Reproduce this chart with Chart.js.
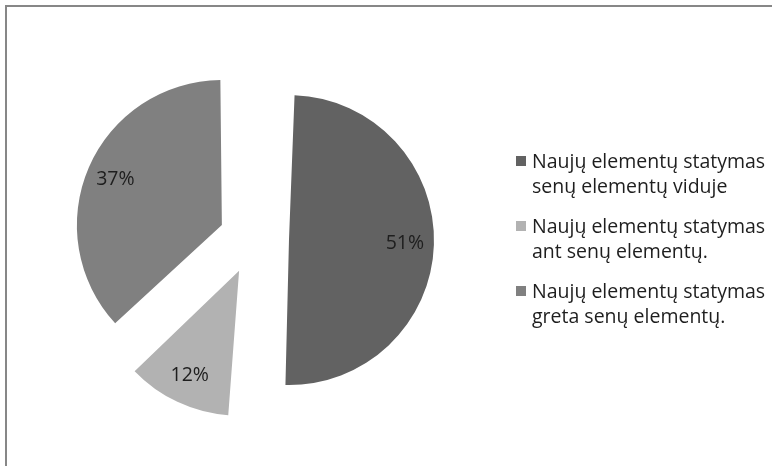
<!DOCTYPE html>
<html>
<head>
<meta charset="utf-8">
<script src="https://cdn.jsdelivr.net/npm/chart.js@4"></script>
<style>
  html, body { margin: 0; padding: 0; background: #fff; overflow: hidden; }
  #wrap { position: relative; width: 772px; height: 466px; }
  #frame { position: absolute; left: 5px; top: 5px; width: 900px; height: 600px; border: 2px solid #878787; }
  canvas { position: absolute; left: 0; top: 0; }
</style>
</head>
<body>
<div id="wrap">
  <div id="frame"></div>
  <canvas id="grafikas" width="772" height="466"></canvas>
</div>
<script>
// Kategorijos (legendos tekstas, dvi eilutės)
const categories = [
  ['Naujų elementų statymas', 'senų elementų viduje'],
  ['Naujų elementų statymas', 'ant senų elementų.'],
  ['Naujų elementų statymas', 'greta senų elementų.']
];
// Procentai
const percents = [51, 12, 37];
const colors = ['#626262', '#b2b2b2', '#808080'];

const pieRadius = 145;
const explode = 140; // Chart.js dalina offset iš 4 -> 35px

// Chart.js didina spindulį išstumtiems segmentams, tai kompensuojam
const fixRadius = {
  id: 'fixRadius',
  afterDatasetUpdate(chart, args) {
    const shift = explode / 4;
    args.meta.data.forEach(arc => {
      const fix = 1 - Math.sin(Math.min(Math.PI, arc.circumference));
      arc.outerRadius = pieRadius - shift * fix;
    });
  }
};

// Procentų etiketės ant segmentų
const pctLabels = {
  id: 'pctLabels',
  afterDatasetsDraw(chart) {
    const ctx = chart.ctx;
    const meta = chart.getDatasetMeta(0);
    ctx.save();
    ctx.font = '19.5px "Open Sans", sans-serif';
    ctx.fillStyle = '#1e1e1e';
    ctx.textAlign = 'center';
    ctx.textBaseline = 'middle';
    meta.data.forEach((arc, i) => {
      const mid = (arc.startAngle + arc.endAngle) / 2;
      const dist = explode / 4 + pieRadius * 0.8;
      ctx.fillText(percents[i] + '%', arc.x + Math.cos(mid) * dist, arc.y + Math.sin(mid) * dist);
    });
    ctx.restore();
  }
};

// Legenda dešinėje
const sideLegend = {
  id: 'sideLegend',
  afterDraw(chart) {
    const ctx = chart.ctx;
    ctx.save();
    ctx.font = '19.5px "Open Sans", sans-serif';
    ctx.textBaseline = 'middle';
    categories.forEach((lines, i) => {
      const top = 162 + i * 65;
      ctx.fillStyle = colors[i];
      ctx.fillRect(516, top - 6, 10, 10);
      ctx.fillStyle = '#1e1e1e';
      lines.forEach((txt, j) => {
        ctx.fillText(txt, 532, top + j * 25);
      });
    });
    ctx.restore();
  }
};

new Chart(document.getElementById('grafikas'), {
  type: 'pie',
  data: {
    labels: categories,
    datasets: [{
      data: percents,
      backgroundColor: colors,
      borderWidth: 0,
      offset: explode,
      radius: pieRadius,
      clip: false
    }]
  },
  options: {
    responsive: false,
    animation: false,
    devicePixelRatio: 1,
    layout: { padding: { left: 0, right: 264, top: 12, bottom: 0 } },
    plugins: {
      legend: { display: false },
      tooltip: { enabled: false }
    }
  },
  plugins: [fixRadius, pctLabels, sideLegend]
});
</script>
</body>
</html>
